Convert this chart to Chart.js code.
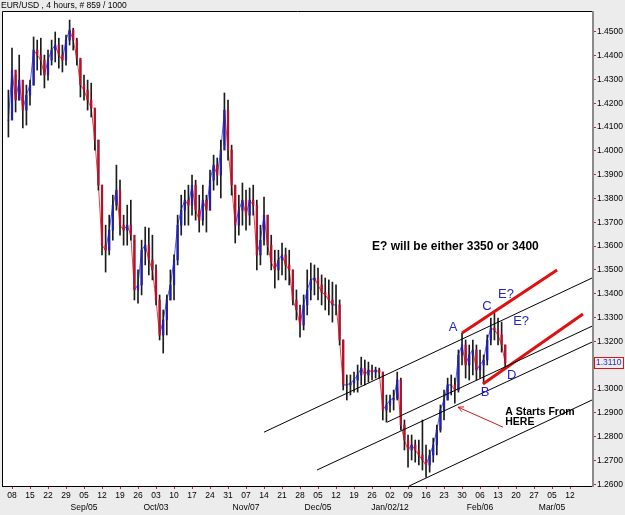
<!DOCTYPE html>
<html>
<head>
<meta charset="utf-8">
<title>EUR/USD 4 hours</title>
<script src="https://cdn.jsdelivr.net/npm/chart.js@4.4.0/dist/chart.umd.min.js"></script>
<style>
  body { margin: 0; background: #ececec; }
  canvas { display: block; }
</style>
</head>
<body>
<canvas id="priceChart" width="625" height="515"></canvas>
<script>
// EUR/USD, one entry per trading day (day 0 = Mon Aug 08)
const firstDay = -1;

const highs = [
  1.4255, 1.4431, 1.4318, 1.4402, 1.4276, 1.4276, 1.4297, 1.4478, 1.4465, 1.4473,
  1.4402, 1.4423, 1.4465, 1.4499, 1.4473, 1.4444, 1.4486, 1.4549, 1.4515, 1.4473,
  1.4381, 1.4318, 1.4297, 1.4284, 1.4171, 1.4045, 1.3856, 1.3688, 1.3730, 1.3814,
  1.3940, 1.3877, 1.3730, 1.3772, 1.3793, 1.3625, 1.3500, 1.3625, 1.3680, 1.3676,
  1.3646, 1.3521, 1.3395, 1.3332, 1.3395, 1.3500, 1.3563, 1.3730, 1.3814, 1.3835,
  1.3856, 1.3898, 1.3877, 1.3814, 1.3856, 1.3814, 1.3919, 1.3982, 1.3970, 1.4045,
  1.4243, 1.4213, 1.4024, 1.3856, 1.3814, 1.3865, 1.3835, 1.3844, 1.3856, 1.3793,
  1.3688, 1.3806, 1.3730, 1.3646, 1.3583, 1.3583, 1.3613, 1.3592, 1.3583, 1.3500,
  1.3416, 1.3353, 1.3395, 1.3500, 1.3529, 1.3521, 1.3508, 1.3479, 1.3466, 1.3458,
  1.3449, 1.3437, 1.3374, 1.3206, 1.3059, 1.3059, 1.3071, 1.3101, 1.3134, 1.3122,
  1.3113, 1.3101, 1.3092, 1.3088, 1.3071, 1.2975, 1.2975, 1.2996, 1.3071, 1.3046,
  1.2870, 1.2807, 1.2807, 1.2786, 1.2786, 1.2870, 1.2765, 1.2744, 1.2794, 1.2849,
  1.2933, 1.2996, 1.3046, 1.3059, 1.3046, 1.3164, 1.3235, 1.3206, 1.3185, 1.3206,
  1.3185, 1.3164, 1.3143, 1.3227, 1.3298, 1.3319, 1.3298, 1.3281, 1.3185
];

const lows = [
  1.4058, 1.4192, 1.4163, 1.4213, 1.4096, 1.4108, 1.4192, 1.4276, 1.4339, 1.4318,
  1.4264, 1.4297, 1.4360, 1.4373, 1.4347, 1.4331, 1.4360, 1.4444, 1.4423, 1.4360,
  1.4226, 1.4213, 1.4171, 1.4142, 1.4003, 1.3835, 1.3563, 1.3491, 1.3563, 1.3625,
  1.3751, 1.3646, 1.3604, 1.3604, 1.3625, 1.3374, 1.3361, 1.3395, 1.3521, 1.3479,
  1.3458, 1.3353, 1.3206, 1.3151, 1.3227, 1.3374, 1.3374, 1.3521, 1.3646, 1.3688,
  1.3688, 1.3730, 1.3709, 1.3659, 1.3688, 1.3659, 1.3751, 1.3835, 1.3856, 1.3802,
  1.4024, 1.3961, 1.3814, 1.3613, 1.3646, 1.3688, 1.3667, 1.3688, 1.3730, 1.3500,
  1.3521, 1.3604, 1.3563, 1.3500, 1.3424, 1.3458, 1.3479, 1.3458, 1.3437, 1.3353,
  1.3290, 1.3218, 1.3248, 1.3311, 1.3374, 1.3395, 1.3374, 1.3353, 1.3332, 1.3311,
  1.3281, 1.3311, 1.3185, 1.2996, 1.2954, 1.2975, 1.2987, 1.2987, 1.3017, 1.3017,
  1.3029, 1.3038, 1.3046, 1.3046, 1.2870, 1.2861, 1.2903, 1.2912, 1.2954, 1.2828,
  1.2744, 1.2672, 1.2702, 1.2693, 1.2681, 1.2660, 1.2630, 1.2651, 1.2693, 1.2723,
  1.2819, 1.2870, 1.2954, 1.2975, 1.2941, 1.2987, 1.3101, 1.3046, 1.3038, 1.3059,
  1.3038, 1.3046, 1.3025, 1.3101, 1.3185, 1.3206, 1.3185, 1.3155, 1.3092
];

const closes = [
  1.4129, 1.4339, 1.4213, 1.4297, 1.4171, 1.4234, 1.4276, 1.4423, 1.4402, 1.4381,
  1.4318, 1.4381, 1.4423, 1.4444, 1.4402, 1.4381, 1.4465, 1.4507, 1.4465, 1.4389,
  1.4276, 1.4255, 1.4213, 1.4180, 1.4045, 1.3856, 1.3604, 1.3583, 1.3667, 1.3772,
  1.3835, 1.3688, 1.3667, 1.3688, 1.3646, 1.3416, 1.3437, 1.3583, 1.3604, 1.3542,
  1.3500, 1.3374, 1.3227, 1.3290, 1.3374, 1.3437, 1.3542, 1.3688, 1.3751, 1.3793,
  1.3772, 1.3856, 1.3751, 1.3709, 1.3793, 1.3751, 1.3877, 1.3940, 1.3898, 1.4003,
  1.4171, 1.4003, 1.3856, 1.3688, 1.3751, 1.3793, 1.3730, 1.3793, 1.3772, 1.3563,
  1.3625, 1.3730, 1.3604, 1.3533, 1.3500, 1.3542, 1.3563, 1.3521, 1.3500, 1.3374,
  1.3332, 1.3269, 1.3353, 1.3416, 1.3458, 1.3466, 1.3437, 1.3407, 1.3395, 1.3374,
  1.3353, 1.3353, 1.3206, 1.3017, 1.3017, 1.3025, 1.3038, 1.3059, 1.3088, 1.3059,
  1.3080, 1.3071, 1.3080, 1.3071, 1.2912, 1.2933, 1.2954, 1.2962, 1.3038, 1.2849,
  1.2786, 1.2744, 1.2765, 1.2744, 1.2723, 1.2702, 1.2681, 1.2723, 1.2765, 1.2828,
  1.2912, 1.2954, 1.3017, 1.3017, 1.2996, 1.3143, 1.3185, 1.3101, 1.3143, 1.3164,
  1.3080, 1.3101, 1.3122, 1.3206, 1.3256, 1.3248, 1.3227, 1.3185, 1.3109
];

const lastPrice = 1.3110;

// week starts on the time axis (one every 5 trading days)
const weekLabels = ['08', '15', '22', '29', '05', '12', '19', '26', '03', '10', '17', '24', '31', '07', '14', '21',
  '28', '05', '12', '19', '26', '02', '09', '16', '23', '30', '06', '13', '20', '27', '05', '12'];
const monthLabels = ['', '', '', '', 'Sep/05', '', '', '', 'Oct/03', '', '', '', '', 'Nov/07', '', '',
  '', 'Dec/05', '', '', '', 'Jan/02/12', '', '', '', '', 'Feb/06', '', '', '', 'Mar/05', ''];

const priceTicks = [1.26, 1.27, 1.28, 1.29, 1.30, 1.31, 1.32, 1.33, 1.34, 1.35,
  1.36, 1.37, 1.38, 1.39, 1.40, 1.41, 1.42, 1.43, 1.44, 1.45];

// drawn trend lines, in (trading day, price)
const channelLines = [
  [[70.0, 1.2819], [161.1, 1.3466]],
  [[104.2, 1.2861], [161.1, 1.3264]],
  [[84.7, 1.2660], [161.1, 1.3197]],
  [[110.3, 1.2593], [161.1, 1.2954]]
];
const redLines = [
  [[125.0, 1.3235], [151.4, 1.3500]],
  [[130.8, 1.3021], [158.6, 1.3315]]
];
const arrowLine = [[136.4, 1.2840], [123.9, 1.2924]];

const notes = [
  { text: 'E? will be either 3350 or 3400', x: 100.0, y: 1.3596, kind: 'big' },
  { text: 'A', x: 122.5, y: 1.3260, kind: 'wave' },
  { text: 'C', x: 131.9, y: 1.3348, kind: 'wave' },
  { text: 'E?', x: 137.2, y: 1.3399, kind: 'wave' },
  { text: 'E?', x: 141.4, y: 1.3283, kind: 'wave' },
  { text: 'B', x: 131.4, y: 1.2987, kind: 'wave' },
  { text: 'D', x: 138.8, y: 1.3059, kind: 'wave' },
  { text: 'A Starts From', x: 137.0, y: 1.2905, kind: 'small' },
  { text: 'HERE', x: 137.0, y: 1.2860, kind: 'small' }
];

const FONT = "'Liberation Sans', Arial, sans-serif";
Chart.defaults.font.family = FONT;
Chart.defaults.color = '#000';

function dayOf(i) {
  return firstDay + i;
}

// Build the candle pieces from the daily arrays
function buildWicks() {
  return highs.map((h, i) => ({ x: dayOf(i), y: [lows[i], h] }));
}

function buildBodies() {
  return closes.map((c, i) => {
    const open = i > 0 ? closes[i - 1] : c;
    return { x: dayOf(i), y: [open, c] };
  });
}

function bodyColors() {
  return closes.map((c, i) => (i > 0 && c < closes[i - 1]) ? '#b8102a' : '#2020a8');
}

function lineDataset(pts, color, width) {
  return {
    type: 'line',
    data: pts.map(p => ({ x: p[0], y: p[1] })),
    borderColor: color,
    borderWidth: width,
    pointRadius: 0,
    order: 0
  };
}

// Background, frame, title, arrow, notes and last price box
const overlayPlugin = {
  id: 'overlay',
  beforeDraw(chart) {
    const { ctx, chartArea: a } = chart;
    ctx.save();
    ctx.fillStyle = '#ececec';
    ctx.fillRect(0, 0, chart.width, chart.height);
    ctx.fillStyle = '#ffffff';
    ctx.fillRect(a.left, a.top, a.right - a.left, a.bottom - a.top);
    ctx.restore();
  },
  afterDraw(chart) {
    const { ctx, chartArea: a } = chart;
    const xs = chart.scales.x;
    const ys = chart.scales.y;
    ctx.save();

    // frame
    ctx.strokeStyle = '#000';
    ctx.lineWidth = 1;
    ctx.beginPath();
    ctx.moveTo(a.left + 0.5, a.bottom + 0.5);
    ctx.lineTo(a.left + 0.5, a.top + 0.5);
    ctx.lineTo(a.right, a.top + 0.5);
    ctx.moveTo(a.left, a.bottom + 0.5);
    ctx.lineTo(a.right, a.bottom + 0.5);
    ctx.stroke();
    ctx.strokeStyle = '#8a8a8a';
    ctx.lineWidth = 2;
    ctx.beginPath();
    ctx.moveTo(a.right + 1, a.top);
    ctx.lineTo(a.right + 1, a.bottom + 1);
    ctx.stroke();

    // title
    ctx.fillStyle = '#000';
    ctx.font = '8.5px ' + FONT;
    ctx.textBaseline = 'middle';
    ctx.textAlign = 'left';
    ctx.fillText('EUR/USD , 4 hours, # 859 / 1000', 1, 5.5);

    // arrow
    const tx = xs.getPixelForValue(arrowLine[0][0]), ty = ys.getPixelForValue(arrowLine[0][1]);
    const hx = xs.getPixelForValue(arrowLine[1][0]), hy = ys.getPixelForValue(arrowLine[1][1]);
    const ang = Math.atan2(hy - ty, hx - tx);
    ctx.strokeStyle = '#d01818';
    ctx.lineWidth = 1;
    ctx.beginPath();
    ctx.moveTo(tx, ty);
    ctx.lineTo(hx, hy);
    ctx.moveTo(hx - 6 * Math.cos(ang - 0.45), hy - 6 * Math.sin(ang - 0.45));
    ctx.lineTo(hx, hy);
    ctx.lineTo(hx - 6 * Math.cos(ang + 0.45), hy - 6 * Math.sin(ang + 0.45));
    ctx.stroke();

    // notes
    notes.forEach(n => {
      const px = xs.getPixelForValue(n.x);
      const py = ys.getPixelForValue(n.y);
      if (n.kind === 'big') {
        ctx.font = 'bold 12px ' + FONT;
        ctx.fillStyle = '#000';
        ctx.textAlign = 'left';
      } else if (n.kind === 'small') {
        ctx.font = 'bold 10.5px ' + FONT;
        ctx.fillStyle = '#000';
        ctx.textAlign = 'left';
      } else {
        ctx.font = '13px ' + FONT;
        ctx.fillStyle = '#2323d0';
        ctx.textAlign = 'center';
      }
      ctx.fillText(n.text, px, py);
    });

    // last price box on the axis
    const ly = Math.round(ys.getPixelForValue(lastPrice));
    ctx.fillStyle = '#ececec';
    ctx.fillRect(a.right + 2, ly - 6, 31, 12);
    ctx.strokeStyle = '#d01818';
    ctx.lineWidth = 1;
    ctx.strokeRect(a.right + 2.5, ly - 5.5, 29, 11);
    ctx.fillStyle = '#3030a8';
    ctx.font = '8.5px ' + FONT;
    ctx.textAlign = 'left';
    ctx.fillText(lastPrice.toFixed(4), a.right + 4, ly);
    ctx.restore();
  }
};

function renderChart() {
  const ctx = document.getElementById('priceChart').getContext('2d');
  const datasets = [
    {
      type: 'bar',
      data: buildBodies(),
      backgroundColor: bodyColors(),
      barThickness: 1.6,
      grouped: false,
      order: 1
    },
    {
      type: 'bar',
      data: buildWicks(),
      backgroundColor: '#1c1c1c',
      barThickness: 1,
      grouped: false,
      order: 2
    },
    {
      type: 'line',
      data: closes.map((c, i) => ({ x: dayOf(i), y: c })),
      borderWidth: 1,
      pointRadius: 0,
      segment: {
        borderColor: s => s.p1.parsed.y < s.p0.parsed.y ? '#e04848' : '#5a5af0'
      },
      order: 3
    }
  ];
  channelLines.forEach(l => datasets.push(lineDataset(l, '#000', 1)));
  redLines.forEach(l => datasets.push(lineDataset(l, '#e01010', 3)));

  new Chart(ctx, {
    type: 'bar',
    data: { datasets: datasets },
    options: {
      responsive: false,
      animation: false,
      events: [],
      layout: { padding: { top: 11, left: 2, right: 0, bottom: 0 } },
      plugins: { legend: { display: false }, tooltip: { enabled: false } },
      scales: {
        x: {
          type: 'linear',
          min: -2.78,
          max: 161.1,
          offset: false,
          border: { display: false },
          grid: { display: true, drawOnChartArea: false, offset: false, tickColor: '#d02020', tickLength: 3 },
          afterBuildTicks: scale => {
            scale.ticks = weekLabels.map((w, i) => ({ value: i * 5 }));
          },
          afterFit: scale => { scale.height = 29; },
          ticks: {
            autoSkip: false,
            maxRotation: 0,
            padding: 1,
            font: { size: 8.5, lineHeight: 1.4 },
            callback: (v, i) => monthLabels[i] ? [weekLabels[i], monthLabels[i]] : weekLabels[i]
          }
        },
        y: {
          position: 'right',
          min: 1.2593,
          max: 1.4587,
          border: { display: false },
          grid: { display: true, drawOnChartArea: false, tickColor: '#d02020', tickLength: 4 },
          afterBuildTicks: scale => {
            scale.ticks = priceTicks.map(v => ({ value: v }));
          },
          afterFit: scale => { scale.width = 33; },
          ticks: {
            padding: 1,
            font: { size: 8.5 },
            callback: v => Math.abs(v - lastPrice) < 0.005 ? '' : v.toFixed(4)
          }
        }
      }
    },
    plugins: [overlayPlugin]
  });
}

window.onload = renderChart;
</script>
</body>
</html>
